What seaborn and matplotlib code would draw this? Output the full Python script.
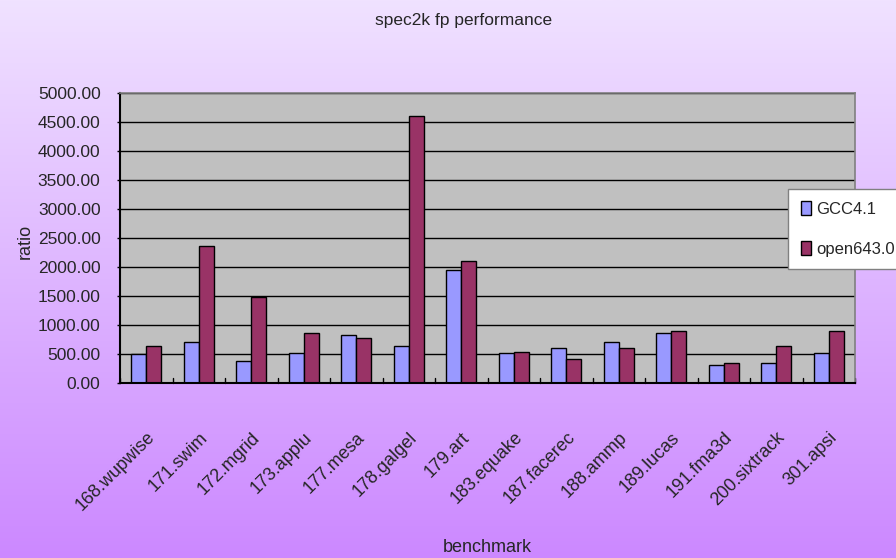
import numpy as np
import pandas as pd
import matplotlib
matplotlib.use("Agg")
import matplotlib.pyplot as plt
import seaborn as sns
from matplotlib.patches import Patch

benchmarks = ["168.wupwise", "171.swim", "172.mgrid", "173.applu", "177.mesa",
              "178.galgel", "179.art", "183.equake", "187.facerec", "188.ammp",
              "189.lucas", "191.fma3d", "200.sixtrack", "301.apsi"]
gcc41 = [506, 701, 379, 511, 833, 644, 1943, 511, 609, 701, 868, 316, 351, 511]
open64 = [644, 2368, 1489, 868, 776, 4609, 2103, 540, 414, 609, 902, 351, 644, 902]
series_names = ["GCC4.1", "open643.0"]
yticks = [0, 500, 1000, 1500, 2000, 2500, 3000, 3500, 4000, 4500, 5000]

df = pd.DataFrame({
    "benchmark": benchmarks * 2,
    "ratio": gcc41 + open64,
    "series": [series_names[0]] * len(benchmarks) + [series_names[1]] * len(benchmarks),
})

sns.set_theme(style="white")
plt.rcParams["font.family"] = ["Liberation Sans", "DejaVu Sans"]

W, H = 896, 558
fig = plt.figure(figsize=(W / 100, H / 100), dpi=100)

# gradient background
bg = fig.add_axes([0, 0, 1, 1], zorder=-10)
top = np.array([0xF0, 0xE2, 0xFF]) / 255
bot = np.array([0xCC, 0x88, 0xFF]) / 255
t = np.linspace(0, 1, 256)[:, None]
grad = (top[None, :] * (1 - t) + bot[None, :] * t)[:, None, :]
bg.imshow(grad, aspect="auto", extent=[0, 1, 0, 1])
bg.set_axis_off()

left, right, bottom, topy = 120, 855, 383, 93
ax = fig.add_axes([left / W, 1 - bottom / H, (right - left) / W, (bottom - topy) / H])
ax.set_facecolor("#C0C0C0")

palette = {series_names[0]: "#9999FF", series_names[1]: "#993366"}
sns.barplot(data=df, x="benchmark", y="ratio", hue="series", palette=palette,
            width=0.58, gap=0, edgecolor="black", linewidth=1.0, saturation=1,
            ax=ax, legend=False, zorder=3)

ax.set_ylim(0, 5000)
ax.set_xlim(-0.5, len(benchmarks) - 0.5)
ax.set_yticks(yticks)
ax.set_yticklabels([f"{v:.2f}" for v in yticks], fontsize=12.5)
for v in yticks[1:]:
    ax.axhline(v, color="black", lw=1.0, zorder=1)

ax.set_xticks(range(len(benchmarks)))
ax.set_xticklabels(benchmarks, rotation=45, ha="right", va="top",
                   rotation_mode="anchor", fontsize=13)
ax.tick_params(axis="x", length=0, pad=33)
ax.tick_params(axis="y", left=True, length=2, width=1, color="black", pad=12)
# category separator ticks
for i in range(len(benchmarks) + 1):
    ax.plot([i - 0.5, i - 0.5], [0, 80], color="black", lw=1, zorder=4, clip_on=False)

for s in ["left", "bottom"]:
    ax.spines[s].set_color("black")
    ax.spines[s].set_linewidth(1.5)
for s in ["top", "right"]:
    ax.spines[s].set_color("#808080")
    ax.spines[s].set_linewidth(1.2)
for s in ax.spines.values():
    s.set_zorder(5)

ax.set_xlabel("")
ax.set_ylabel("")
fig.text(25 / W, 1 - 241 / H, "ratio", rotation=90, ha="center", va="center", fontsize=13)
fig.text(487 / W, 1 - 547 / H, "benchmark", ha="center", va="center", fontsize=13)
fig.text(464 / W, 1 - 21 / H, "spec2k fp performance", ha="center", va="center", fontsize=12.5)

handles = [Patch(facecolor=palette[n], edgecolor="black", linewidth=1) for n in series_names]
leg = fig.legend(handles, series_names, loc="upper left",
                 bbox_to_anchor=(788 / W, 1 - 189 / H), fontsize=12,
                 frameon=True, fancybox=False, edgecolor="#808080", facecolor="white",
                 framealpha=1, handlelength=0.6, handleheight=0.9, handletextpad=0.35,
                 borderpad=0.75, labelspacing=1.45, borderaxespad=0)
leg.get_frame().set_linewidth(1)

fig.savefig("out.png", dpi=100)
